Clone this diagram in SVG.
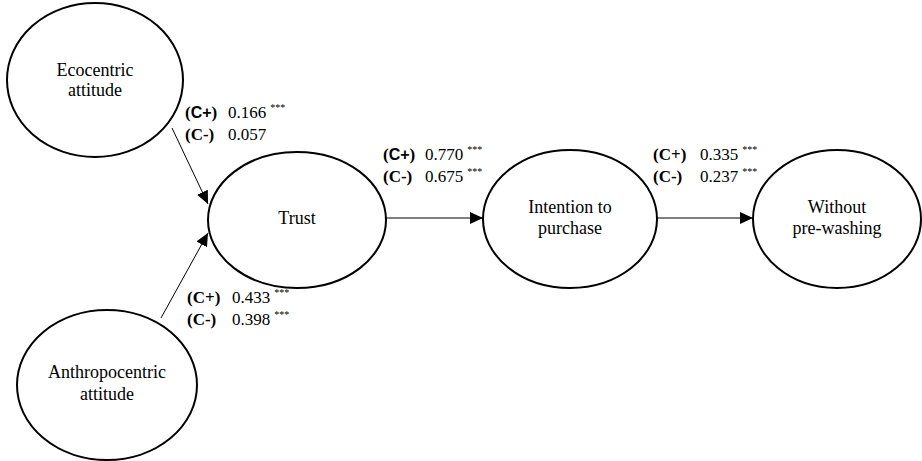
<svg xmlns="http://www.w3.org/2000/svg" width="922" height="461" viewBox="0 0 922 461">
<style>
.node ellipse{fill:#fff;stroke:#000;stroke-width:2}
.node text{font-size:18px;fill:#000;text-anchor:middle}
.conn line{stroke:#000;stroke-width:1}
.lbl{font-size:17px;fill:#000}
.b{font-weight:bold}
.sb{font-weight:bold;font-size:16px}
.sup{font-size:10px}
</style>
<defs>
<marker id="ah" viewBox="0 0 13 12" refX="13" refY="6" markerWidth="13" markerHeight="12" markerUnits="userSpaceOnUse" orient="auto">
<path d="M0,0 L13,6 L0,12 Z" fill="#000"/>
</marker>
</defs>
<g id="connectors" class="conn">
<line x1="172" y1="128" x2="208" y2="204" marker-end="url(#ah)"/>
<line x1="161" y1="318" x2="208" y2="233" marker-end="url(#ah)"/>
<line x1="386" y1="218" x2="483" y2="218" marker-end="url(#ah)"/>
<line x1="657" y1="218" x2="753" y2="218" marker-end="url(#ah)"/>
</g>
<g font-family="'Liberation Serif', 'DejaVu Serif', serif">
<g id="ecocentric" class="node">
<ellipse cx="95" cy="80" rx="88" ry="77"/>
<text x="95" y="76">Ecocentric</text>
<text x="95" y="96">attitude</text>
</g>
<g id="anthropocentric" class="node">
<ellipse cx="107" cy="385" rx="90" ry="75"/>
<text x="107" y="378">Anthropocentric</text>
<text x="107" y="400">attitude</text>
</g>
<g id="trust" class="node">
<ellipse cx="297" cy="220" rx="89" ry="68"/>
<text x="297" y="224">Trust</text>
</g>
<g id="intention" class="node">
<ellipse cx="570" cy="219" rx="87" ry="69"/>
<text x="570" y="213">Intention to</text>
<text x="570" y="234">purchase</text>
</g>
<g id="without" class="node">
<ellipse cx="837" cy="219" rx="84" ry="69"/>
<text x="837" y="213">Without</text>
<text x="837" y="234">pre-washing</text>
</g>
<g id="labels">
<text class="lbl" x="185" y="118"><tspan class="b">(</tspan><tspan class="sb" font-family="'Liberation Sans', sans-serif">C+</tspan><tspan class="b">)</tspan><tspan x="228">0.166</tspan><tspan class="sup" dx="4" dy="-7">***</tspan></text>
<text class="lbl" x="185" y="140"><tspan class="b">(C-)</tspan><tspan x="228">0.057</tspan></text>
<text class="lbl" x="383" y="160"><tspan class="b">(</tspan><tspan class="sb" font-family="'Liberation Sans', sans-serif">C+</tspan><tspan class="b">)</tspan><tspan x="425">0.770</tspan><tspan class="sup" dx="4" dy="-7">***</tspan></text>
<text class="lbl" x="383" y="182"><tspan class="b">(C-)</tspan><tspan x="425">0.675</tspan><tspan class="sup" dx="4" dy="-7">***</tspan></text>
<text class="lbl" x="653" y="160"><tspan class="b">(C+)</tspan><tspan x="700">0.335</tspan><tspan class="sup" dx="4" dy="-7">***</tspan></text>
<text class="lbl" x="653" y="182"><tspan class="b">(C-)</tspan><tspan x="700">0.237</tspan><tspan class="sup" dx="4" dy="-7">***</tspan></text>
<text class="lbl" x="187" y="303"><tspan class="b">(C+)</tspan><tspan x="232">0.433</tspan><tspan class="sup" dx="4" dy="-7">***</tspan></text>
<text class="lbl" x="187" y="325"><tspan class="b">(C-)</tspan><tspan x="232">0.398</tspan><tspan class="sup" dx="4" dy="-7">***</tspan></text>
</g>
</g>
</svg>
